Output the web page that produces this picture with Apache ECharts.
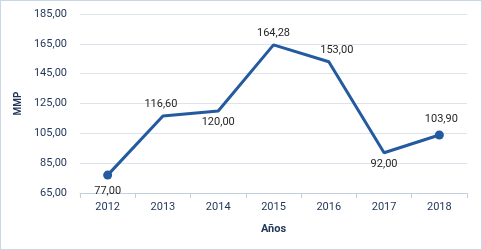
<!DOCTYPE html>
<html>
<head>
<meta charset="utf-8">
<script src="https://cdn.jsdelivr.net/npm/echarts@6/dist/echarts.min.js"></script>
<style>
html,body{margin:0;padding:0;background:#fff;}
#wrap{position:absolute;left:0;top:0;width:480px;height:248px;border:1px solid #C9D7E6;}
#c{width:480px;height:248px;}
</style>
</head>
<body>
<div id="wrap"><div id="c"></div></div>
<script>
const categories = ['2012','2013','2014','2015','2016','2017','2018'];
const values = [77.00, 116.60, 120.00, 164.28, 153.00, 92.00, 103.90];
const yTicks = [65, 85, 105, 125, 145, 165, 185];

const labelPos = ['bottom','top','bottom','top','top','bottom','top'];
const labelOff = [[0,0],[-2,0],[0,0],[0,0],[8,0],[0,0],[2,0]];
const fmt = v => v.toFixed(2).replace('.', ',');
const seriesData = values.map((v, i) => ({
  value: v,
  symbol: 'circle',
  symbolSize: (i === 0 || i === values.length - 1) ? 9 : 0.01,
  label: { position: labelPos[i], offset: labelOff[i] }
}));

const txt = '#1F3557';
const chart = echarts.init(document.getElementById('c'));
chart.setOption({
  animation: false,
  textStyle: { fontFamily: 'Roboto' },
  grid: { left: 79, right: 14, top: 13, bottom: 56 },
  xAxis: {
    type: 'category',
    data: categories,
    boundaryGap: true,
    name: 'Años',
    nameLocation: 'middle',
    nameGap: 31,
    nameTextStyle: { color: txt, fontWeight: 'bold', fontSize: 11, fontFamily: 'Roboto' },
    axisLine: { lineStyle: { color: '#C3CFDC', width: 1 } },
    axisTick: { show: true, length: 5, lineStyle: { color: '#C3CFDC' } },
    axisLabel: { color: txt, fontSize: 11, margin: 9, fontFamily: 'Roboto' }
  },
  yAxis: {
    type: 'value',
    min: yTicks[0],
    max: yTicks[yTicks.length - 1],
    interval: 20,
    name: 'MMP',
    nameLocation: 'middle',
    nameGap: 53,
    nameRotate: 90,
    nameTextStyle: { color: txt, fontWeight: 'bold', fontSize: 10, fontFamily: 'Roboto' },
    axisLine: { show: false },
    axisTick: { show: false },
    splitLine: { lineStyle: { color: '#DCE3EB', width: 1 } },
    axisLabel: { color: txt, fontSize: 11, margin: 13, fontFamily: 'Roboto', formatter: v => fmt(v) }
  },
  series: [{
    type: 'line',
    data: seriesData,
    showAllSymbol: true,
    lineStyle: { color: '#245A9E', width: 3 },
    itemStyle: { color: '#245A9E' },
    label: {
      show: true,
      color: '#262626',
      fontSize: 11,
      fontFamily: 'Roboto',
      distance: 6,
      formatter: p => fmt(p.value)
    }
  }]
});
</script>
</body>
</html>
